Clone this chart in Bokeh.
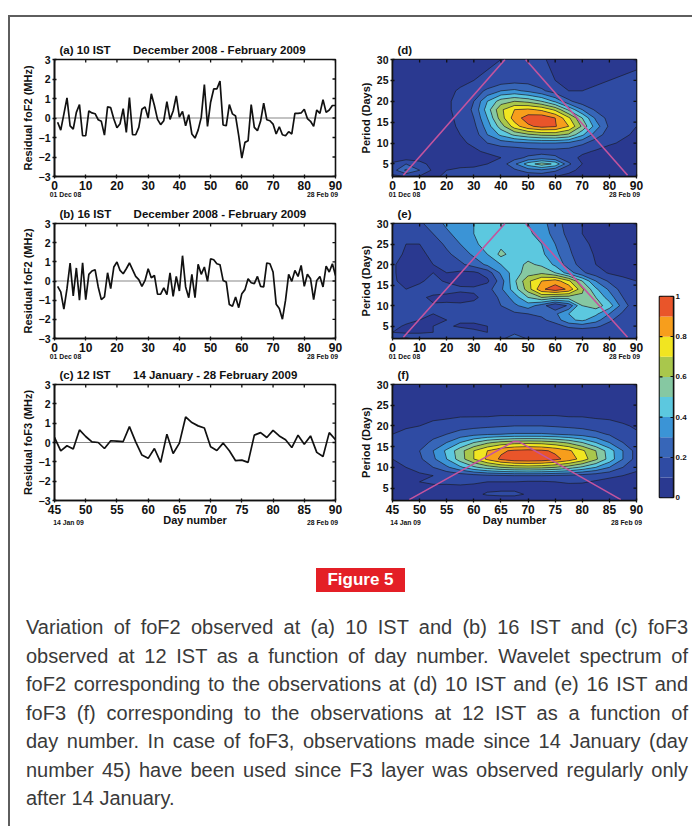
import numpy as np
from bokeh.plotting import figure
from bokeh.models import LinearAxis, FixedTicker, Div, Spacer, Range1d
from bokeh.layouts import column, row
from bokeh.embed import file_html
from bokeh.resources import INLINE

FONT = "Liberation Sans"
INK = "#111111"
FRAME_GRAY = "#5e5e5e"

# ---------------- residual time series ----------------
days_a = list(range(1, 91))
resid_a = [-0.22, -0.62, 0.20, 1.03, -0.40, -0.57, 0.29, 0.69, -0.91, -0.91,
           0.36, 0.26, 0.22, -0.09, -0.17, -0.88, 0.57, 0.53, -0.05, -0.50,
           -0.29, 0.48, -0.74, 1.05, -0.86, -0.86, -0.48, 0.45, 0.57, 0.00,
           1.24, 0.64, -0.07, -0.34, -0.14, 0.84, -0.07, 0.36, 1.13, 0.05,
           0.34, -0.40, 0.17, -0.82, -1.03, -0.62, 0.03, 1.72, -0.43, 0.81,
           1.49, 1.49, 1.89, -0.36, -0.40, 0.69, 0.21, 0.10, -0.90, -2.06,
           -1.25, -1.17, 0.69, -0.48, -0.65, -0.17, 0.76, -0.09, -0.14, -0.31,
           -0.82, -0.45, -0.86, -0.91, -0.70, -0.82, 0.24, 0.24, 0.26, 0.45,
           -0.03, -0.17, -0.43, 0.41, 0.24, 0.94, 0.29, 0.41, 0.64, 0.64]

days_b = list(range(1, 91))
resid_b = [-0.28, -0.57, -1.47, -0.40, 0.94, -0.78, 0.68, -1.00, 0.95, -0.97,
           0.35, 0.52, 0.59, -0.31, -0.97, -0.83, 0.43, -0.40, 0.73, 0.99,
           0.55, 0.38, 0.64, 0.94, 0.59, 0.24, 0.07, -0.28, 0.03, 0.64,
           0.17, 0.29, -0.69, -0.69, -0.36, -0.71, 0.42, -0.80, 0.24, -0.52,
           1.32, -0.31, -0.87, 0.35, -0.87, 0.87, 0.35, 0.73, -0.02, 1.16,
           1.11, 0.90, 0.85, 0.03, -0.05, -1.23, -1.32, -0.83, -1.39, -0.66,
           -0.45, 0.12, -0.09, -0.14, 0.24, -0.28, -0.31, 0.94, 0.90, 0.47,
           -1.21, -1.44, -1.99, -1.00, 0.35, -0.02, 0.55, 0.24, 0.81, -0.28,
           0.35, 0.12, -0.97, 0.03, 0.24, -0.31, 0.78, 0.47, 0.90, 0.29]

days_c = list(range(45, 91))
resid_c = [0.26, -0.43, -0.17, -0.34, 0.65, 0.31, 0.03, 0.00, -0.31, 0.09,
           0.07, 0.05, 0.82, 0.03, -0.65, -0.82, -0.31, -1.03, 0.43, -0.57,
           -0.03, 1.32, 1.03, 0.86, 0.75, -0.22, -0.41, -0.03, -0.43, -0.94,
           -0.91, -1.03, 0.38, 0.51, 0.26, 0.63, 0.34, 0.14, -0.26, 0.38,
           -0.09, 0.34, -0.51, -0.72, 0.51, 0.14]

# ---------------- wavelet power (normalised) ----------------
wav_days_de = [0, 5, 10, 15, 20, 25, 30, 35, 40, 45, 50, 55, 60, 65, 70, 75, 80, 85, 90]
wav_days_f = [45, 47.5, 50, 52.5, 55, 57.5, 60, 62.5, 65, 67.5, 70, 72.5, 75, 77.5, 80, 82.5, 85, 87.5, 90]
periods = [2, 3.5, 5, 6.5, 8, 10, 12, 14, 16, 18, 20, 22.5, 25, 27.5, 30]

power_d = [
    [.08, .10, .09, .08, .12, .14, .13, .12, .12, .12, .12, .12, .10, .08, .07, .06, .05, .05, .05],
    [.15, .32, .20, .08, .10, .12, .12, .12, .13, .18, .25, .28, .22, .12, .08, .06, .05, .04, .04],
    [.12, .20, .14, .06, .06, .07, .08, .10, .14, .28, .45, .55, .48, .22, .10, .06, .05, .04, .04],
    [.04, .05, .05, .05, .06, .07, .07, .08, .10, .16, .22, .25, .22, .14, .08, .06, .05, .05, .05],
    [.03, .03, .04, .05, .07, .08, .09, .11, .12, .13, .15, .16, .16, .15, .12, .09, .07, .06, .06],
    [.03, .03, .04, .05, .07, .09, .11, .20, .25, .27, .29, .30, .30, .28, .22, .15, .11, .09, .08],
    [.03, .03, .04, .05, .08, .10, .14, .30, .42, .52, .58, .62, .63, .58, .42, .25, .15, .11, .09],
    [.03, .03, .04, .05, .08, .11, .17, .35, .55, .75, .88, .93, .91, .80, .58, .35, .18, .12, .10],
    [.03, .03, .04, .05, .08, .12, .20, .40, .65, .85, .95, .97, .90, .72, .50, .28, .16, .12, .10],
    [.03, .03, .04, .05, .09, .12, .22, .45, .68, .80, .82, .78, .68, .48, .30, .18, .13, .11, .10],
    [.03, .03, .04, .05, .09, .12, .20, .40, .55, .60, .57, .50, .38, .22, .14, .12, .12, .12, .11],
    [.03, .03, .04, .05, .08, .11, .15, .22, .30, .32, .28, .22, .15, .10, .10, .11, .12, .12, .12],
    [.03, .03, .03, .04, .05, .08, .10, .12, .14, .16, .16, .13, .10, .08, .08, .09, .10, .11, .12],
    [.03, .03, .03, .04, .05, .06, .08, .10, .12, .14, .14, .12, .09, .07, .06, .07, .08, .09, .10],
    [.03, .03, .03, .03, .04, .05, .06, .08, .10, .13, .13, .11, .08, .06, .05, .05, .06, .06, .06],
]

power_e = [
    [.18, .22, .16, .14, .15, .16, .14, .15, .16, .30, .18, .14, .13, .12, .12, .12, .12, .13, .14],
    [.10, .08, .09, .10, .12, .14, .12, .10, .11, .16, .12, .10, .12, .13, .12, .12, .11, .12, .12],
    [.12, .09, .08, .10, .11, .09, .08, .10, .12, .14, .13, .12, .16, .22, .25, .22, .16, .12, .10],
    [.10, .12, .10, .08, .10, .11, .12, .13, .14, .15, .16, .18, .24, .38, .42, .34, .22, .14, .10],
    [.11, .13, .12, .10, .11, .12, .13, .14, .15, .18, .20, .22, .28, .40, .48, .42, .30, .18, .12],
    [.12, .12, .12, .11, .12, .12, .13, .16, .20, .28, .35, .25, .10, .22, .50, .55, .45, .25, .12],
    [.12, .11, .12, .08, .07, .06, .08, .14, .22, .35, .50, .60, .55, .55, .58, .50, .35, .20, .12],
    [.12, .10, .12, .15, .14, .12, .12, .16, .28, .45, .65, .88, .96, .88, .62, .42, .28, .15, .10],
    [.11, .08, .09, .12, .09, .06, .05, .08, .25, .48, .68, .80, .85, .72, .50, .30, .18, .12, .10],
    [.11, .07, .08, .10, .10, .08, .08, .14, .32, .45, .55, .58, .50, .35, .22, .14, .09, .08, .10],
    [.11, .07, .07, .10, .14, .18, .24, .32, .40, .46, .52, .48, .38, .25, .16, .10, .07, .08, .10],
    [.15, .08, .08, .12, .18, .24, .32, .40, .53, .45, .46, .42, .33, .22, .14, .09, .07, .08, .10],
    [.15, .10, .10, .15, .22, .30, .38, .44, .47, .46, .45, .40, .30, .20, .12, .08, .06, .06, .07],
    [.14, .12, .14, .20, .28, .34, .40, .44, .45, .44, .42, .36, .26, .17, .10, .07, .06, .06, .06],
    [.12, .14, .18, .25, .32, .36, .40, .42, .43, .42, .40, .34, .24, .16, .10, .07, .06, .06, .06],
]

power_f = [
    [.04, .04, .04, .04, .04, .04, .04, .04, .04, .04, .04, .04, .04, .04, .04, .04, .04, .04, .04],
    [.04, .04, .05, .05, .06, .07, .08, .11, .12, .12, .09, .07, .06, .06, .05, .05, .05, .05, .05],
    [.04, .05, .06, .07, .07, .08, .08, .08, .08, .08, .08, .07, .07, .07, .06, .06, .05, .05, .05],
    [.05, .06, .10, .12, .12, .12, .11, .10, .10, .10, .09, .09, .10, .11, .11, .09, .07, .06, .05],
    [.06, .07, .08, .10, .12, .14, .16, .18, .19, .20, .20, .20, .19, .18, .16, .14, .12, .10, .08],
    [.08, .10, .14, .20, .28, .38, .48, .55, .60, .63, .64, .63, .60, .55, .48, .40, .30, .20, .12],
    [.10, .13, .18, .28, .40, .55, .70, .82, .92, .97, .98, .97, .93, .86, .76, .62, .46, .30, .16],
    [.12, .14, .20, .30, .42, .56, .70, .80, .88, .92, .93, .92, .88, .82, .72, .60, .45, .30, .16],
    [.14, .13, .16, .22, .30, .40, .50, .58, .63, .66, .67, .66, .63, .58, .50, .40, .30, .20, .12],
    [.10, .12, .14, .17, .20, .24, .27, .29, .30, .31, .31, .31, .30, .28, .26, .23, .19, .15, .11],
    [.08, .09, .10, .12, .14, .16, .17, .18, .19, .20, .20, .20, .19, .18, .17, .15, .13, .11, .09],
    [.06, .06, .07, .08, .08, .09, .09, .09, .10, .10, .10, .10, .10, .09, .09, .08, .08, .07, .06],
    [.05, .05, .05, .06, .06, .07, .07, .08, .08, .08, .08, .08, .08, .08, .07, .07, .06, .05, .05],
    [.05, .05, .05, .05, .05, .05, .05, .05, .05, .05, .05, .05, .05, .05, .05, .05, .05, .05, .05],
    [.04, .04, .04, .04, .04, .04, .04, .04, .04, .04, .04, .04, .04, .04, .04, .04, .04, .04, .04],
]

levels = [0.0, 0.1, 0.2, 0.3, 0.4, 0.5, 0.6, 0.7, 0.8, 0.9, 1.0]
palette = ["#2a3990", "#2f4ba3", "#3766b8", "#3b94d6", "#5cc8df",
           "#86c8a2", "#a9c74c", "#f1e521", "#f79e1c", "#e9552a"]
cbar_ticks = [0, 0.2, 0.4, 0.6, 0.8, 1.0]
cbar_labels = ["0", "0.2", "0.4", "0.6", "0.8", "1"]

# cone of influence
coi_de_left_x = [4.0, 41.5]
coi_de_left_y = [2.3, 30.0]
coi_de_right_x = [49.1, 86.7]
coi_de_right_y = [30.0, 2.3]
coi_f_x = [48.1, 67.3, 68.3, 87.1]
coi_f_y = [2.2, 16.2, 16.2, 2.2]
COI_COLOR = "#c4549e"

ticks_x_dec = [0, 10, 20, 30, 40, 50, 60, 70, 80, 90]
ticks_x_jan = [45, 50, 55, 60, 65, 70, 75, 80, 85, 90]
ticks_resid = [-3, -2, -1, 0, 1, 2, 3]
ticks_period = [5, 10, 15, 20, 25, 30]
dates_dec = ["01 Dec 08", "28 Feb 09"]
dates_jan = ["14 Jan 09", "28 Feb 09"]


def mk_fig(w, h, xr, yr, bl, br, bt, bb):
    p = figure(width=w, height=h, x_range=Range1d(*xr), y_range=Range1d(*yr),
               output_backend="svg", toolbar_location=None,
               x_axis_location=None, y_axis_location=None,
               min_border_left=bl, min_border_right=br,
               min_border_top=bt, min_border_bottom=bb)
    p.grid.visible = False
    p.outline_line_color = INK
    p.outline_line_width = 1.6
    p.border_fill_color = "white"
    return p


def axis(ticks, size, label=None, label_size="11px", label_standoff=2):
    a = LinearAxis(ticker=FixedTicker(ticks=ticks, minor_ticks=[]),
                   axis_line_color=INK, axis_line_width=1.6,
                   major_tick_line_color=INK, major_tick_line_width=1.3,
                   major_tick_out=2, major_tick_in=2,
                   minor_tick_line_color=None,
                   major_label_text_font=FONT, major_label_text_font_style="bold",
                   major_label_text_color=INK,
                   major_label_text_font_size=size,
                   major_label_standoff=2)
    if label:
        a.axis_label = label
        a.axis_label_text_font = FONT
        a.axis_label_text_font_style = "bold"
        a.axis_label_text_font_size = label_size
        a.axis_label_text_color = INK
        a.axis_label_standoff = label_standoff
    return a


def mirror_ticks(p, xticks, yticks):
    # small inward tick marks on the top and right frame edges
    x0, x1 = p.x_range.start, p.x_range.end
    y0, y1 = p.y_range.start, p.y_range.end
    p.scatter(x=xticks, y=[y1] * len(xticks), marker="dash", angle=np.pi / 2,
              size=6, line_color=INK, line_width=1.3)
    p.scatter(x=[x1] * len(yticks), y=yticks, marker="dash", size=6,
              line_color=INK, line_width=1.3)


def date_axis(p, frame_w, labels, left_px, right_px, standoff):
    x0, x1 = p.x_range.start, p.x_range.end
    k = (x1 - x0) / frame_w
    pos = [x0 + left_px * k, x1 - right_px * k]
    a = LinearAxis(ticker=FixedTicker(ticks=pos, minor_ticks=[]),
                   major_label_overrides={pp: s for pp, s in zip(pos, labels)},
                   axis_line_color=None, major_tick_line_color=None,
                   minor_tick_line_color=None, major_tick_in=0, major_tick_out=0,
                   major_label_text_font=FONT, major_label_text_font_style="bold",
                   major_label_text_font_size="6.8px", major_label_text_color=INK,
                   major_label_standoff=standoff)
    p.add_layout(a, "below")


def dress(p, xticks, yticks, ylabel, title, day_label):
    if day_label:
        p.add_layout(axis(xticks, "12px", label="Day number", label_size="11px",
                          label_standoff=-3), "below")
    else:
        p.add_layout(axis(xticks, "12px"), "below")
    p.add_layout(axis(yticks, "10.5px", label=ylabel), "left")
    mirror_ticks(p, xticks, yticks)
    p.title.text = title
    p.title.align = "left"
    p.title.offset = 5
    p.title.standoff = 8
    p.title.text_font = FONT
    p.title.text_font_style = "bold"
    p.title.text_font_size = "11.5px"
    p.title.text_color = INK


NB = "\u00a0" * 7
# geometry (pixels)
LW, RW, CW = 335, 303, 44
L_FRAME_W, R_FRAME_W = 281, 244
H1, H2, H3 = 184, 161, 174
TOPS = [42, 22, 22]
BOTS = [25, 23, 36]
heights = [H1, H2, H3]

# ---- left column ----
left_specs = [
    (days_a, resid_a, (0, 90), ticks_x_dec, "Residual foF2 (MHz)",
     "(a) 10 IST" + NB + "December 2008 - February 2009", dates_dec),
    (days_b, resid_b, (0, 90), ticks_x_dec, "Residual foF2 (MHz)",
     "(b) 16 IST" + NB + "December 2008 - February 2009", dates_dec),
    (days_c, resid_c, (45, 90), ticks_x_jan, "Residual foF3 (MHz)",
     "(c) 12 IST" + NB + "14 January - 28 February 2009", dates_jan),
]
left_figs = []
for i, (dx, dy, xr, xt, ylab, ttl, dates) in enumerate(left_specs):
    p = mk_fig(LW, heights[i], xr, (-3, 3), 44, 10, TOPS[i], BOTS[i])
    p.line(x=[xr[0], xr[1]], y=[0, 0], line_color=INK, line_width=1.2, line_dash="1 1")
    p.line(x=dx, y=dy, line_color=INK, line_width=1.7)
    dress(p, xt, ticks_resid, ylab, ttl, i == 2)
    if i == 2:
        date_axis(p, L_FRAME_W, dates, 14, 13, -10)
    else:
        date_axis(p, L_FRAME_W, dates, 11, 13, -2)
    left_figs.append(p)

# ---- right column ----
right_specs = [
    (wav_days_de, power_d, (0, 90), ticks_x_dec, "(d)", dates_dec),
    (wav_days_de, power_e, (0, 90), ticks_x_dec, "(e)", dates_dec),
    (wav_days_f, power_f, (45, 90), ticks_x_jan, "(f)", dates_jan),
]
right_figs = []
for i, (wx, pw, xr, xt, ttl, dates) in enumerate(right_specs):
    p = mk_fig(RW, heights[i], xr, (2, 30), 47, 12, TOPS[i], BOTS[i])
    p.background_fill_color = palette[0]
    p.contour(x=np.array(wx, dtype=float), y=np.array(periods, dtype=float),
              z=np.array(pw, dtype=float), levels=levels,
              fill_color=palette, line_color="#1a1a1a", line_width=0.6)
    if i < 2:
        p.line(x=coi_de_left_x, y=coi_de_left_y, line_color=COI_COLOR, line_width=1.6)
        p.line(x=coi_de_right_x, y=coi_de_right_y, line_color=COI_COLOR, line_width=1.6)
    else:
        p.line(x=coi_f_x, y=coi_f_y, line_color=COI_COLOR, line_width=1.6)
    dress(p, xt, ticks_period, "Period (Days)", ttl, i == 2)
    if i == 2:
        date_axis(p, R_FRAME_W, dates, 13, 10, -10)
    else:
        date_axis(p, R_FRAME_W, dates, 12, 12, -2)
    right_figs.append(p)

# ---- colour bar ----
cb = mk_fig(CW, H1 + H2 + H3, (0, 1), (0, 1), 11, 19, 279, 39)
cb.quad(left=0, right=1, bottom=levels[:-1], top=levels[1:], fill_color=palette,
        line_color=None)
cb.scatter(x=[0] * len(cbar_ticks), y=cbar_ticks, marker="dash", size=6,
           line_color=INK, line_width=1.2)
cba = LinearAxis(ticker=FixedTicker(ticks=cbar_ticks, minor_ticks=[]),
                 major_label_overrides={t: s for t, s in zip(cbar_ticks, cbar_labels)},
                 axis_line_color=INK, axis_line_width=1.4,
                 major_tick_line_color=INK, major_tick_in=3, major_tick_out=0,
                 minor_tick_line_color=None,
                 major_label_text_font=FONT, major_label_text_font_style="bold",
                 major_label_text_font_size="8px", major_label_standoff=2,
                 major_label_text_color=INK)
cb.add_layout(cba, "right")

charts = row(column(*left_figs), column(*right_figs), cb)

caption_lines = [
    "Variation of foF2 observed at (a) 10 IST and (b) 16 IST and (c) foF3",
    "observed at 12 IST as a function of day number. Wavelet spectrum of",
    "foF2 corresponding to the observations at (d) 10 IST and (e) 16 IST and",
    "foF3 (f) corresponding to the observations at 12 IST as a function of",
    "day number. In case of foF3, observations made since 14 January (day",
    "number 45) have been used since F3 layer was observed regularly only",
    "after 14 January.",
]
line_html = ""
for k, ln in enumerate(caption_lines):
    last = k == len(caption_lines) - 1
    al = "left" if last else "justify"
    line_html += ('<div style="white-space:nowrap;text-align:%s;text-align-last:%s;">%s</div>'
                  % (al, al, ln))

lower_html = (
    '<div style="position:relative;width:682px;height:290px;">'
    '<div style="position:absolute;left:306px;top:32px;width:89px;height:24px;'
    'background:#e41f26;color:#ffffff;font-family:\'Liberation Sans\';font-weight:bold;'
    'font-size:17px;line-height:24px;text-align:center;">Figure 5</div>'
    '<div style="position:absolute;left:16px;top:77px;width:662px;'
    'font-family:\'Liberation Sans\';font-size:20px;line-height:28.5px;color:#3a3a3a;">'
    + line_html + '</div></div>'
)
lower = Div(text=lower_html, width=682, height=290, margin=(0, 0, 0, 0))

body = column(charts, lower)

top_line = Div(text="", width=684, height=2, margin=(0, 0, 0, 0),
               styles={"background-color": FRAME_GRAY})
left_line = Div(text="", width=2, height=809, margin=(0, 0, 0, 0),
                styles={"background-color": FRAME_GRAY})

root = column(
    Spacer(width=692, height=15),
    row(Spacer(width=8, height=2), top_line),
    row(Spacer(width=8, height=809), left_line, body),
)

open("out.html", "w").write(file_html(root, INLINE))
